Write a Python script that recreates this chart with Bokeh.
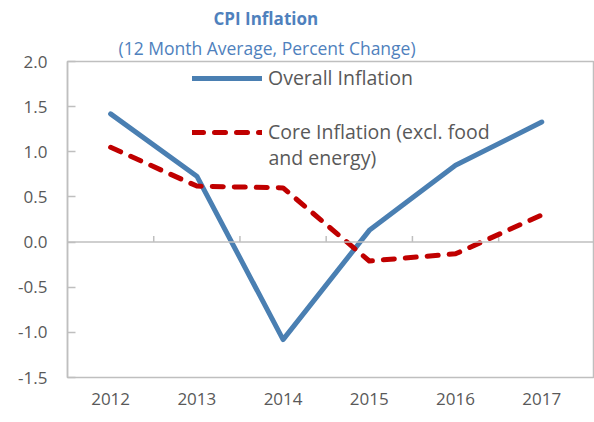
from bokeh.plotting import figure
from bokeh.models import LinearAxis, FixedTicker, Label, Legend, LegendItem, Range1d, Span, Title
from bokeh.embed import file_html
from bokeh.resources import INLINE

years = ["2012", "2013", "2014", "2015", "2016", "2017"]
overall = [1.42, 0.73, -1.08, 0.13, 0.85, 1.33]
core = [1.05, 0.62, 0.60, -0.21, -0.13, 0.30]
y_ticks = [-1.5, -1.0, -0.5, 0.0, 0.5, 1.0, 1.5, 2.0]

FONT = "Open Sans"
GREY_TEXT = "#595959"
FRAME = "#BFBFBF"
BLUE = "#4A7FB2"
RED = "#C00000"
TITLE_BLUE = "#4F81BD"

xs = list(range(len(years)))

p = figure(width=594, height=420, output_backend="svg", toolbar_location=None,
           x_range=Range1d(-0.5, 5.6), y_range=Range1d(-1.5, 2.0),
           min_border_left=67, min_border_right=1, min_border_top=61, min_border_bottom=43,
           x_axis_type=None, y_axis_type=None)
p.title.visible = False
p.grid.visible = False
p.outline_line_color = FRAME
p.outline_line_width = 1.5
p.background_fill_color = "white"
p.border_fill_color = "white"

# titles (first added sits closest to the frame)
p.add_layout(Title(text="(12 Month Average, Percent Change)", align="left", offset=51,
                   text_font=FONT, text_font_size="17.5px", text_font_style="normal",
                   text_color=TITLE_BLUE, standoff=4), "above")
p.add_layout(Title(text="CPI Inflation", align="left", offset=146,
                   text_font=FONT, text_font_size="17px", text_font_style="bold",
                   text_color=TITLE_BLUE, standoff=4), "above")

# left axis
yax = LinearAxis(ticker=FixedTicker(ticks=y_ticks))
yax.major_label_overrides = {t: f"{t:.1f}" for t in y_ticks}
yax.major_tick_in = 8
yax.major_tick_out = 0
yax.minor_tick_line_color = None
yax.major_tick_line_color = FRAME
yax.major_tick_line_width = 1.5
yax.axis_line_color = FRAME
yax.axis_line_width = 1.5
yax.major_label_text_font = FONT
yax.major_label_text_font_size = "17px"
yax.major_label_text_color = GREY_TEXT
yax.major_label_standoff = 20
p.add_layout(yax, "left")

# category labels at bottom
xlab = LinearAxis(ticker=FixedTicker(ticks=xs))
xlab.major_label_overrides = {i: y for i, y in enumerate(years)}
xlab.axis_line_color = None
xlab.major_tick_line_color = None
xlab.minor_tick_line_color = None
xlab.major_label_text_font = FONT
xlab.major_label_text_font_size = "17px"
xlab.major_label_text_color = GREY_TEXT
xlab.major_label_standoff = 9
p.add_layout(xlab, "below")

# zero line with ticks at category boundaries
p.add_layout(Span(location=0, dimension="width", line_color=FRAME, line_width=1.5))
bounds = [i + 0.5 for i in xs[:-1]]
tick_len = 6 * (3.5 / 316)
p.segment(x0=bounds, y0=[0] * len(bounds), x1=bounds, y1=[tick_len] * len(bounds),
          line_color=FRAME, line_width=1.5)

r1 = p.line(xs, overall, line_color=BLUE, line_width=5, line_cap="round", line_join="round")
r2 = p.line(xs, core, line_color=RED, line_width=5, line_dash="11 11", line_cap="round", line_join="round")

legend = Legend(items=[LegendItem(label="Overall Inflation", renderers=[r1]),
                       LegendItem(label="Core Inflation (excl. food", renderers=[r2])],
                location=(125, 232), orientation="vertical")
legend.border_line_color = None
legend.background_fill_alpha = 0
legend.padding = 0
legend.margin = 0
legend.spacing = 27
legend.glyph_width = 70
legend.glyph_height = 20
legend.label_height = 20
legend.label_standoff = 6
legend.label_text_font = FONT
legend.label_text_font_size = "19.5px"
legend.label_text_color = GREY_TEXT
p.add_layout(legend, "center")

p.add_layout(Label(x=201, y=220, x_units="screen", y_units="screen", text="and energy)",
                   text_font=FONT, text_font_size="19.5px", text_color=GREY_TEXT,
                   text_baseline="middle", text_align="left"))

open("out.html", "w").write(file_html(p, INLINE))
